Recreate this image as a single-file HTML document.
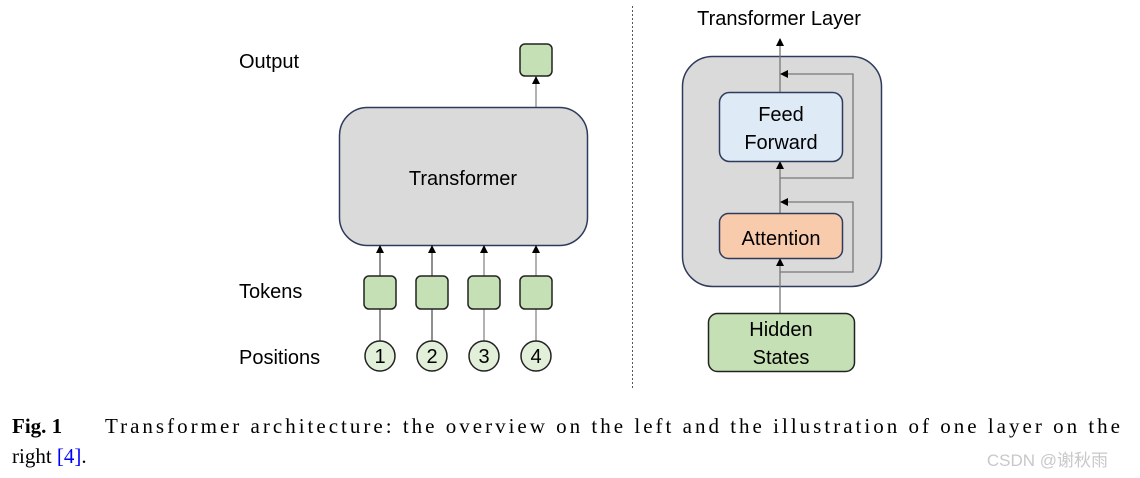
<!DOCTYPE html>
<html><head><meta charset="utf-8"><style>
html,body{margin:0;padding:0;background:#fff;}
svg{display:block;}
.s{font-family:"Liberation Sans","DejaVu Sans",sans-serif;fill:#000;}
.c{font-family:"Liberation Serif",serif;fill:#000;font-size:21px;}
</style></head><body>
<svg width="1140" height="478" viewBox="0 0 1140 478" xmlns="http://www.w3.org/2000/svg">
<defs>
<marker id="a" markerWidth="8" markerHeight="8" refX="7" refY="4" orient="auto" markerUnits="userSpaceOnUse">
<path d="M0,0 L8,4 L0,8 z" fill="#000"/></marker>
</defs>
<rect width="1140" height="478" fill="#fff"/>
<!-- left -->
<text class="s" x="239" y="68" font-size="20">Output</text>
<text class="s" x="239" y="298" font-size="20">Tokens</text>
<text class="s" x="239" y="364" font-size="20">Positions</text>
<rect x="520" y="44" width="32" height="32" rx="5" fill="#c5e0b4" stroke="#222" stroke-width="1.5"/>
<line x1="536" y1="107" x2="536" y2="77" stroke="#888" stroke-width="1.3" marker-end="url(#a)"/>
<rect x="339.5" y="107.5" width="248" height="138" rx="28" fill="#dadada" stroke="#2f3b5a" stroke-width="1.5"/>
<text class="s" x="463" y="185" font-size="20" text-anchor="middle">Transformer</text>
<g stroke-width="1.3">
<line x1="380" y1="276" x2="380" y2="246" stroke="#555" marker-end="url(#a)"/>
<line x1="432" y1="276" x2="432" y2="246" stroke="#555" marker-end="url(#a)"/>
<line x1="484" y1="276" x2="484" y2="246" stroke="#888" marker-end="url(#a)"/>
<line x1="536" y1="276" x2="536" y2="246" stroke="#888" marker-end="url(#a)"/>
<line x1="380" y1="309" x2="380" y2="341" stroke="#555"/>
<line x1="432" y1="309" x2="432" y2="341" stroke="#555"/>
<line x1="484" y1="309" x2="484" y2="341" stroke="#888"/>
<line x1="536" y1="309" x2="536" y2="341" stroke="#888"/>
</g>
<g fill="#c5e0b4" stroke="#222" stroke-width="1.5">
<rect x="364" y="276" width="32" height="33" rx="5"/>
<rect x="416" y="276" width="32" height="33" rx="5"/>
<rect x="468" y="276" width="32" height="33" rx="5"/>
<rect x="520" y="276" width="32" height="33" rx="5"/>
</g>
<g fill="#e2efd9" stroke="#222" stroke-width="1.5">
<circle cx="380" cy="356" r="15"/><circle cx="432" cy="356" r="15"/>
<circle cx="484" cy="356" r="15"/><circle cx="536" cy="356" r="15"/>
</g>
<g class="s" font-size="20" text-anchor="middle">
<text x="380" y="363">1</text><text x="432" y="363">2</text><text x="484" y="363">3</text><text x="536" y="363">4</text>
</g>
<!-- divider -->
<line x1="632.5" y1="6" x2="632.5" y2="390" stroke="#555" stroke-width="1" stroke-dasharray="2,2"/>
<!-- right -->
<text class="s" x="779" y="25" font-size="20" text-anchor="middle">Transformer Layer</text>
<rect x="682.5" y="56.5" width="199" height="230" rx="30" fill="#dadada" stroke="#2f3b5a" stroke-width="1.5"/>
<line x1="780" y1="92" x2="780" y2="39" stroke="#777" stroke-width="1.3" marker-end="url(#a)"/>
<line x1="780" y1="213" x2="780" y2="162" stroke="#777" stroke-width="1.3" marker-end="url(#a)"/>
<line x1="780" y1="313" x2="780" y2="259" stroke="#777" stroke-width="1.3" marker-end="url(#a)"/>
<polyline points="780,272 853,272 853,202 781,202" fill="none" stroke="#777" stroke-width="1.3" marker-end="url(#a)"/>
<polyline points="780,178 853,178 853,74 781,74" fill="none" stroke="#777" stroke-width="1.3" marker-end="url(#a)"/>
<rect x="719.5" y="92.5" width="123" height="69" rx="10" fill="#deebf7" stroke="#2f3b5a" stroke-width="1.5"/>
<text class="s" x="781" y="121" font-size="20" text-anchor="middle">Feed</text>
<text class="s" x="781" y="149" font-size="20" text-anchor="middle">Forward</text>
<rect x="719.5" y="213.5" width="123" height="45" rx="9" fill="#f8cbad" stroke="#2f3b5a" stroke-width="1.5"/>
<text class="s" x="781" y="245" font-size="20" text-anchor="middle">Attention</text>
<rect x="708.5" y="313.5" width="146" height="58" rx="9" fill="#c5e0b4" stroke="#222" stroke-width="1.5"/>
<text class="s" x="781" y="336" font-size="20" text-anchor="middle">Hidden</text>
<text class="s" x="781" y="364" font-size="20" text-anchor="middle">States</text>
<!-- caption -->
<text class="c" x="12" y="433"><tspan font-weight="bold">Fig. 1</tspan></text>
<text class="c" x="105" y="433" textLength="1015" lengthAdjust="spacing">Transformer architecture: the overview on the left and the illustration of one layer on the</text>
<text class="c" x="12" y="463">right <tspan fill="#00f">[4]</tspan>.</text>
<text x="1108" y="466" text-anchor="end" font-family="Liberation Sans, 'Noto Sans CJK SC', sans-serif" font-size="17" fill="#c8c8c8">CSDN @谢秋雨</text>
</svg>
</body></html>
